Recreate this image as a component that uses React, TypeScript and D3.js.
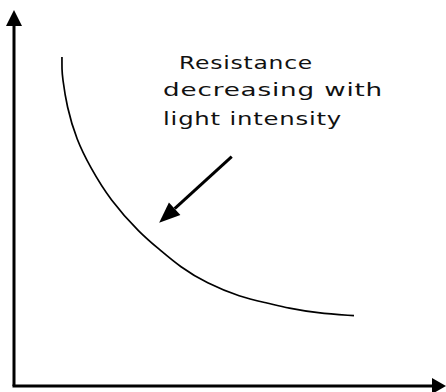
import React from "react";
import * as d3 from "d3";

const WIDTH = 446;
const HEIGHT = 392;

// Resistance vs light intensity (arbitrary units, 0–100 on both axes)
const lightIntensity = [11.1, 11.1, 11.2, 12.2, 14.5, 17.6, 22.2, 29.2, 33.8, 38.4, 44.6, 52.3, 58.9, 63.4, 70.1, 78.7];
const resistance = [87.5, 84.0, 82.3, 74.3, 65.4, 58.3, 49.5, 40.6, 36.2, 31.7, 27.3, 23.7, 22.0, 20.7, 19.4, 18.7];

// Annotation text and pointer (in data units)
const labelLines = ["Resistance", "decreasing with", "light intensity"];
const labelAnchors = [[38.2, 84.3], [34.5, 77.0], [34.5, 69.5]];
const labelWidths = [134, 220, 179];
const pointerFrom = [50.4, 61.0];
const pointerTo = [33.6, 43.4];

export default function App() {
  const x = d3.scaleLinear().domain([0, 100]).range([14, 446]);
  const y = d3.scaleLinear().domain([0, 100]).range([386, 10]);

  const pts: [number, number][] = lightIntensity.map((v, i) => [x(v), y(resistance[i])]);
  const line = d3.line().curve(d3.curveBasis)(pts) || "";

  const x0 = x(0);
  const y0 = y(0);
  const yTop = y(100);
  const xEnd = x(100);
  const head = 16;
  const half = 8;

  // pointer arrow geometry
  const px1 = x(pointerFrom[0]);
  const py1 = y(pointerFrom[1]);
  const px2 = x(pointerTo[0]);
  const py2 = y(pointerTo[1]);
  const ang = Math.atan2(py2 - py1, px2 - px1);
  const hl = 21;
  const hw = 8.5;
  const bx = px2 - hl * Math.cos(ang);
  const by = py2 - hl * Math.sin(ang);
  const nx = -Math.sin(ang);
  const ny = Math.cos(ang);

  return (
    <svg
      width={WIDTH}
      height={HEIGHT}
      style={{ position: "absolute", left: 0, top: 0, background: "#fff" }}
    >
      {/* axes */}
      <line x1={x0} y1={y0} x2={x0} y2={yTop + head} stroke="#000" strokeWidth={3} />
      <polygon
        points={`${x0},${yTop} ${x0 - half},${yTop + head} ${x0 + half},${yTop + head}`}
        fill="#000"
      />
      <line x1={x0 - 1.5} y1={y0} x2={xEnd - head + 2} y2={y0} stroke="#000" strokeWidth={3} />
      <polygon
        points={`${xEnd},${y0} ${xEnd - head + 2},${y0 - half} ${xEnd - head + 2},${y0 + half}`}
        fill="#000"
      />

      {/* curve */}
      <path d={line} fill="none" stroke="#000" strokeWidth={1.7} />

      {/* annotation */}
      {labelLines.map((t, i) => (
        <text
          key={i}
          x={x(labelAnchors[i][0])}
          y={y(labelAnchors[i][1])}
          fontFamily="'DejaVu Sans', sans-serif"
          fontSize={18.5}
          fill="#111"
          letterSpacing={0.6}
          textLength={labelWidths[i]}
          lengthAdjust="spacingAndGlyphs"
        >
          {t}
        </text>
      ))}
      <line x1={px1} y1={py1} x2={bx} y2={by} stroke="#000" strokeWidth={3} />
      <polygon
        points={`${px2},${py2} ${bx + nx * hw},${by + ny * hw} ${bx - nx * hw},${by - ny * hw}`}
        fill="#000"
      />
    </svg>
  );
}
